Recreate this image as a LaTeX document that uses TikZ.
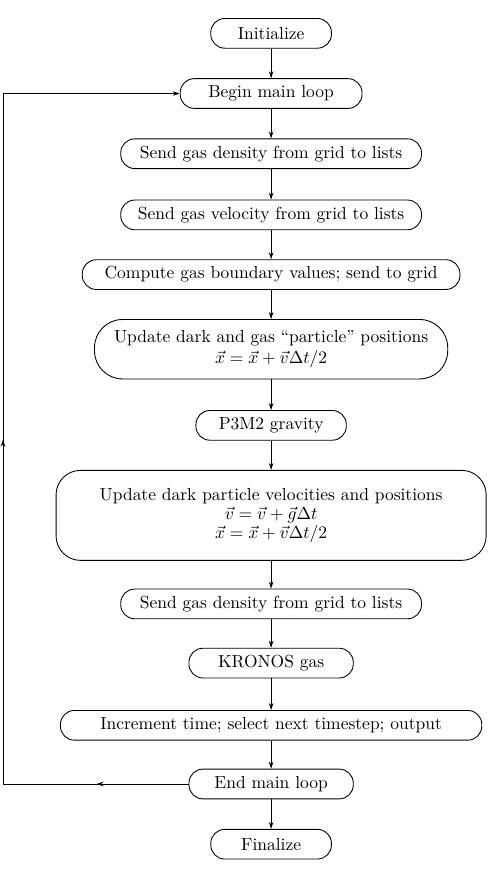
\documentclass[tikz,border=0pt]{standalone}
\usetikzlibrary{arrows.meta}
\tikzset{every path/.style={black, line width=0.5pt}, >={Stealth[length=4pt,width=2.6pt]},
  box/.style={draw, rectangle, rounded corners=8pt, minimum height=17pt, inner sep=2pt, align=center},
  tallbox/.style={box, rounded corners=14pt}}
\begin{document}
\begin{tikzpicture}
   \useasboundingbox (0,0) rectangle (9.83,-17.69);
   \node[box, minimum width=69pt]  (init)   at (5.45, -0.67) {Initialize};
   \node[box, minimum width=104pt] (begin)  at (5.45, -1.88) {Begin main loop};
   \node[box, minimum width=172pt] (dens)   at (5.45, -3.09) {Send gas density from grid to lists};
   \node[box, minimum width=172pt] (vel)    at (5.45, -4.32) {Send gas velocity from grid to lists};
   \node[box, minimum width=216pt] (bound)  at (5.45, -5.52) {Compute gas boundary values; send to grid};
   \node[tallbox, rounded corners=16pt, minimum width=202pt, minimum height=34pt] (drift)  at (5.45, -7.02)
      {Update dark and gas ``particle'' positions\\ $\vec{x}=\vec{x}+\vec{v}\Delta t/2$};
   \node[box, minimum width=86pt]  (grav)   at (5.45, -8.55) {P3M2 gravity};
   \node[tallbox, minimum width=246pt, minimum height=51.5pt] (kick) at (5.45,-10.36)
      {Update dark particle velocities and positions\\[-1pt] $\vec{v}=\vec{v}+\vec{g}\Delta t$\\[-1pt] $\vec{x}=\vec{x}+\vec{v}\Delta t/2$};
   \node[box, minimum width=172pt] (dens2)  at (5.45,-12.14) {Send gas density from grid to lists};
   \node[box, minimum width=94pt]  (kronos) at (5.45,-13.33) {KRONOS gas};
   \node[box, minimum width=241pt] (incr)   at (5.45,-14.58) {Increment time; select next timestep; output};
   \node[box, minimum width=94pt]  (endl)   at (5.45,-15.76) {End main loop};
   \node[box, minimum width=69pt]  (final)  at (5.45,-16.97) {Finalize};
   \draw[->] (init) -- (begin);
   \draw[->] (begin) -- (dens);
   \draw[->] (dens) -- (vel);
   \draw[->] (vel) -- (bound);
   \draw[->] (bound) -- (drift);
   \draw[->] (drift) -- (grav);
   \draw[->] (grav) -- (kick);
   \draw[->] (kick) -- (dens2);
   \draw[->] (dens2) -- (kronos);
   \draw[->] (kronos) -- (incr);
   \draw[->] (incr) -- (endl);
   \draw[->] (endl) -- (final);
   % loop back
   \coordinate (lb) at (0.06,-15.76);
   \coordinate (lt) at (0.06,-1.88);
   \draw[->] (endl.west) -- (lb) -- (lt) -- (begin.west);
   \draw[->] (1.95,-15.76) -- (1.94,-15.76);
   \draw[->] (0.06,-8.85) -- (0.06,-8.84);
  \end{tikzpicture}
\end{document}
